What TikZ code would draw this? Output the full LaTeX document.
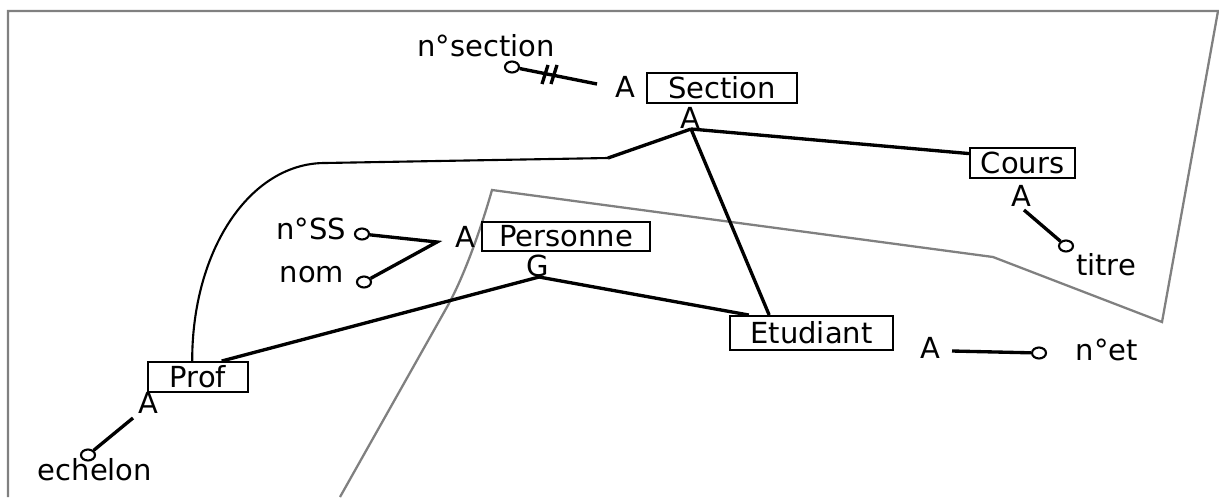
\documentclass[tikz,border=0pt]{standalone}
\usepackage{fontspec}
\setmainfont{DejaVu Sans}
\usepackage{tikz}
\usetikzlibrary{positioning,shapes.geometric}

\tikzset{
  entite/.style={draw,line width=1.1pt,inner sep=0pt,minimum height=0.6cm},
  lien/.style={line width=1.9pt},
  attr/.style={draw,ellipse,line width=1.2pt,inner sep=0pt,minimum width=0.28cm,minimum height=0.22cm},
  contour/.style={draw=gray,line width=1.3pt},
}

\begin{document}
\begin{tikzpicture}[x=0.02cm,y=-0.02cm,font=\fontsize{16.5}{20}\selectfont]
    \useasboundingbox (0,0) rectangle (1219,497);

    % Gray outline
    \draw[contour] (340,497) -- (447,307) .. controls (465,275) and (482,225) .. (492,190)
        -- (993,257) -- (1162,322) -- (1218,11) -- (8,11) -- (8,497);

    % Entities
    \node[entite,minimum width=3cm] (section) at (722,88) {Section};
    \node[entite,minimum width=2.1cm] (cours) at (1022.5,163) {Cours};
    \node[entite,minimum width=3.36cm,minimum height=0.58cm] (personne) at (566,236.5) {Personne};
    \node[entite,minimum width=3.26cm,minimum height=0.68cm] (etudiant) at (811.5,333) {Etudiant};
    \node[entite,minimum width=2cm] (prof) at (198,377) {Prof};

    % Letters next to the entities
    \node (asec) at (625,87) {A};
    \node (asecb) at (690,118) {A};
    \node (acours) at (1021,196) {A};
    \node (apers) at (465,237) {A};
    \node (gpers) at (538,266) {G};
    \node (aet) at (930,348) {A};
    \node (aprof) at (148,403) {A};

    % Attributes
    \node[attr] (csec) at (512,67) {};
    \node[attr] (css) at (362,234) {};
    \node[attr] (cnom) at (364,282) {};
    \node[attr] (ctitre) at (1066,246) {};
    \node[attr] (cet) at (1039,353) {};
    \node[attr] (cech) at (88,455) {};

    \node (nsec) at (486,46) {n°section};
    \node (nss) at (311,229) {n°SS};
    \node (nom) at (312,275) {nom};
    \node (titre) at (1106,265) {titre};
    \node (net) at (1107,350) {n°et};
    \node (ech) at (95,470) {echelon};

    % Free ends of the links
    \coordinate (psec) at (597,84);
    \coordinate (hsec) at (691,129);
    \coordinate (coude) at (608,158);
    \coordinate (haut) at (325,163);
    \coordinate (hpers) at (437,242);
    \coordinate (gv) at (539,277);
    \coordinate (hcours) at (1024,210);
    \coordinate (het) at (952,351);
    \coordinate (hprof) at (133,418);

    % Links
    \draw[lien] (csec) -- (psec);
    \draw[lien] (542,84) -- (548,65) (551,84) -- (557,65);   % identifier
    \draw[lien] (hsec) -- (coude);
    \draw[line width=1.2pt] (coude) -- (haut) .. controls (250,163) and (192,250) .. (prof.110);
    \draw[lien] (hsec) -- (cours.170);
    \draw[lien] (hsec) -- (etudiant.157);
    \draw[lien] (css) -- (hpers) -- (cnom);
    \draw[lien] (gv) -- (prof.34);
    \draw[lien] (gv) -- (etudiant.164);
    \draw[lien] (hcours) -- (ctitre);
    \draw[lien] (het) -- (cet);
    \draw[lien] (hprof) -- (cech);
\end{tikzpicture}
\end{document}
